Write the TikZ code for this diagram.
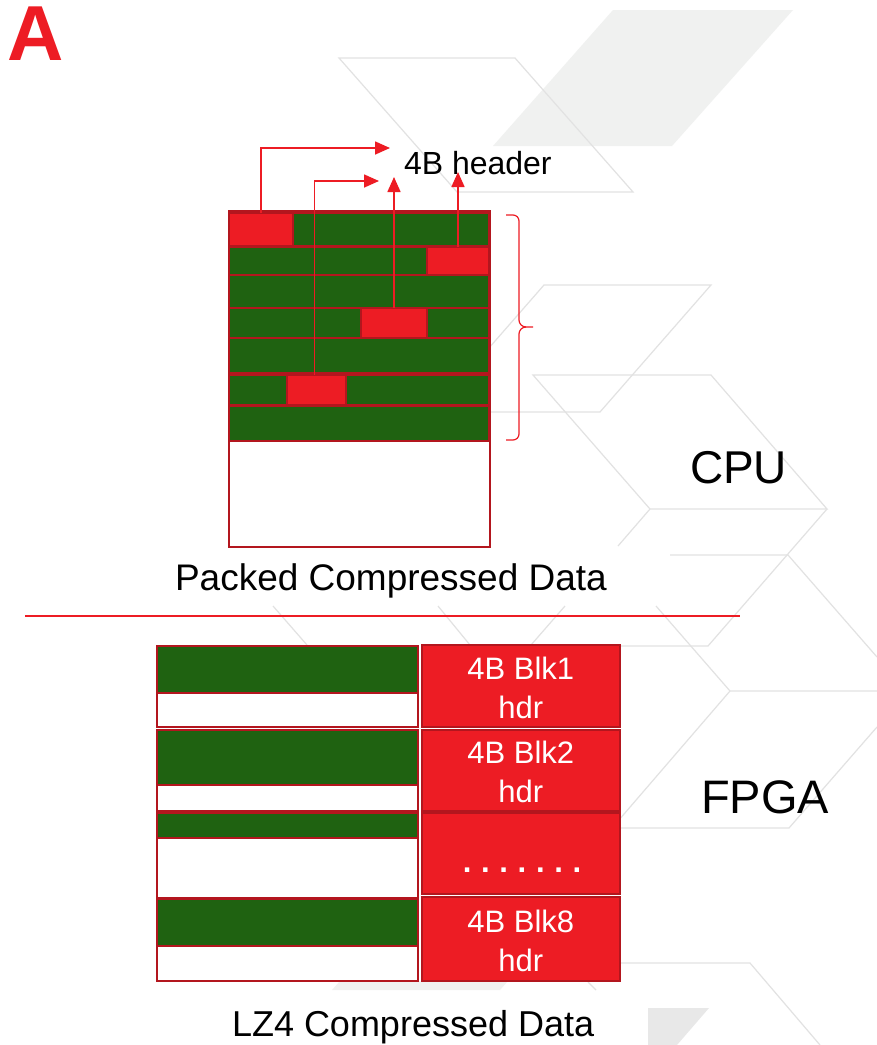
\documentclass[tikz,border=0pt]{standalone}
\usepackage{fontspec}
\setmainfont{Liberation Sans}
\usetikzlibrary{arrows.meta,fit}

\definecolor{hdrred}{HTML}{ED1C24}
\definecolor{edgered}{HTML}{B3161E}
\definecolor{datagreen}{HTML}{1F6211}
\definecolor{bgline}{HTML}{E2E2E2}
\definecolor{bgfill}{HTML}{F0F1F0}
\definecolor{bgfilldark}{HTML}{E8E8E8}

\begin{document}
\begin{tikzpicture}[x=1pt,y=-1pt,
  cell/.style={draw=edgered,line width=2pt,inner sep=0pt,outer sep=0pt},
  grn/.style={cell,fill=datagreen},
  hred/.style={cell,fill=hdrred},
  blank/.style={cell,fill=white},
  blktext/.style={text=white,align=center,inner sep=0pt,outer sep=0pt,
    font=\fontsize{31}{39}\selectfont},
  ptr/.style={draw=hdrred,line width=1.6pt,-{Triangle[length=15pt,width=13pt]}},
  bg/.style={draw=bgline,line width=1.2pt},
  lbl/.style={inner sep=0pt,outer sep=0pt,anchor=base west,text=black},
]
% page
\fill[white] (0,0) rectangle (877,1045);
\useasboundingbox (0,0) rectangle (877,1045);

% ---- faint background lattice ----
\fill[bgfill] (613,10) -- (793,10) -- (672,146) -- (493,146) -- cycle;
\fill[bgfill] (340,981) -- (508,981) -- (500,990) -- (332,990) -- cycle;
\fill[bgfilldark] (648,1008) -- (709,1008) -- (677,1045) -- (648,1045) -- cycle;
\draw[bg] (339,58) -- (515,58) -- (633,192) -- (457,192) -- cycle;
\draw[bg] (544,285) -- (711,285) -- (600,412) -- (433,412) -- cycle;
\draw[bg] (533,375) -- (711,375) -- (827,509) -- (650,509) -- cycle;
\draw[bg] (650,509) -- (618,546);
\draw[bg] (827,509) -- (708,646) -- (620,646);
\draw[bg] (670,555) -- (788,555) -- (877,657);
\draw[bg] (273,606) -- (307,645);
\draw[bg] (438,606) -- (470,645);
\draw[bg] (565,606) -- (531,645);
\draw[bg] (656,606) -- (730,691) -- (877,691);
\draw[bg] (730,691) -- (612,828) -- (789,828) -- (877,727);
\draw[bg] (620,963) -- (750,963) -- (820,1045);
\draw[bg] (588,982) -- (596,990);

% ---- panel letter ----
\node[lbl, text=hdrred, font=\fontsize{78}{81}\bfseries\selectfont] (panel) at (7,60) {A};

% ---- packed layout (CPU) ----
\node[blank, fit={(228.5,210.5) (489.5,547)}] (pack) {};
\node[grn,  fit={(229,212.5) (489,245.5)}] (row1) {};
\node[hred, fit={(229,212.5) (292.5,245.5)}] (h1) {};
\node[grn,  fit={(229,246.5) (489,274.5)}] (row2) {};
\node[hred, fit={(427,246.5) (489,274.5)}] (h2) {};
\node[grn,  fit={(229,274.5) (489,307.5)}] (row3) {};
\node[grn,  fit={(229,308) (489,337.5)}] (row4) {};
\node[hred, fit={(361,308) (427,337.5)}] (h4) {};
\node[grn,  fit={(229,337.5) (489,372.5)}] (row5) {};
\node[grn,  fit={(229,374.5) (489,405)}] (row6) {};
\node[hred, fit={(287,374.5) (346,405)}] (h6) {};
\node[grn,  fit={(229,406) (489,440.5)}] (row7) {};

% header pointers
\node[lbl, font=\fontsize{32}{36}\selectfont] (hdrlabel) at (404,174) {4B header};
\coordinate (t1) at (390,148);
\coordinate (t2) at (379,181);
\draw[ptr] (h1.north) |- (t1);
\draw[ptr] ([xshift=-2pt]h6.north) |- (t2);
\draw[ptr] (h4.north) -- (h4.north |- 0,177);
\draw[ptr] (h2.north) -- (h2.north |- 0,172);

% brace over the packed rows
\draw[hdrred, line width=1.2pt]
  (506,215) -- (513,215) to[out=0,in=90] (519,221) -- (519,320)
  to[out=-90,in=180] (526,327) -- (533,327);
\draw[hdrred, line width=1.2pt]
  (526,327) to[out=180,in=90] (519,334) -- (519,434)
  to[out=-90,in=0] (513,440) -- (506,440);

\node[lbl, font=\fontsize{46}{50}\selectfont] (cpu) at (690,483) {CPU};
\node[lbl, font=\fontsize{37}{40}\selectfont] (packcap) at (175,590.5) {Packed Compressed Data};

% divider
\draw[hdrred, line width=1.5pt] (25,616) -- (740,616);

% ---- LZ4 layout (FPGA) ----
\node[grn,   fit={(157,645.5) (417.5,692.5)}] (g1) {};
\node[blank, fit={(157,692.5) (417.5,727)}] (w1) {};
\node[grn,   fit={(157,729.5) (417.5,784.5)}] (g2) {};
\node[blank, fit={(157,784.5) (417.5,810.5)}] (w2) {};
\node[grn,   fit={(157,812.5) (417.5,837.5)}] (g3) {};
\node[blank, fit={(157,837.5) (417.5,897.5)}] (w3) {};
\node[grn,   fit={(157,899) (417.5,946)}] (g4) {};
\node[blank, fit={(157,946) (417.5,981)}] (w4) {};

\node[hred, fit={(421.5,644.5) (620,727)}] (blk1) {};
\node[hred, fit={(421.5,729.5) (620,811)}] (blk2) {};
\node[hred, fit={(421.5,812.5) (620,894)}] (blkd) {};
\node[hred, fit={(421.5,897) (620,980.5)}] (blk8) {};
\node[blktext] (blk1t) at ([yshift=-2pt]blk1.center) {4B Blk1\\hdr};
\node[blktext] (blk2t) at ([yshift=-2pt]blk2.center) {4B Blk2\\hdr};
\node[blktext] (blk8t) at ([yshift=-2pt]blk8.center) {4B Blk8\\hdr};
\node[text=white, inner sep=0pt, anchor=base,
  font={\fontsize{31}{36}\bfseries\selectfont\frenchspacing\spaceskip=9.7pt}] (dots) at (522,872) {. . . . . . .};

\node[lbl, font=\fontsize{47}{50}\selectfont] (fpga) at (701,813) {FPGA};
\node[lbl, font=\fontsize{36}{40}\selectfont] (lzcap) at (232,1036.5) {LZ4 Compressed Data};
\end{tikzpicture}
\end{document}
